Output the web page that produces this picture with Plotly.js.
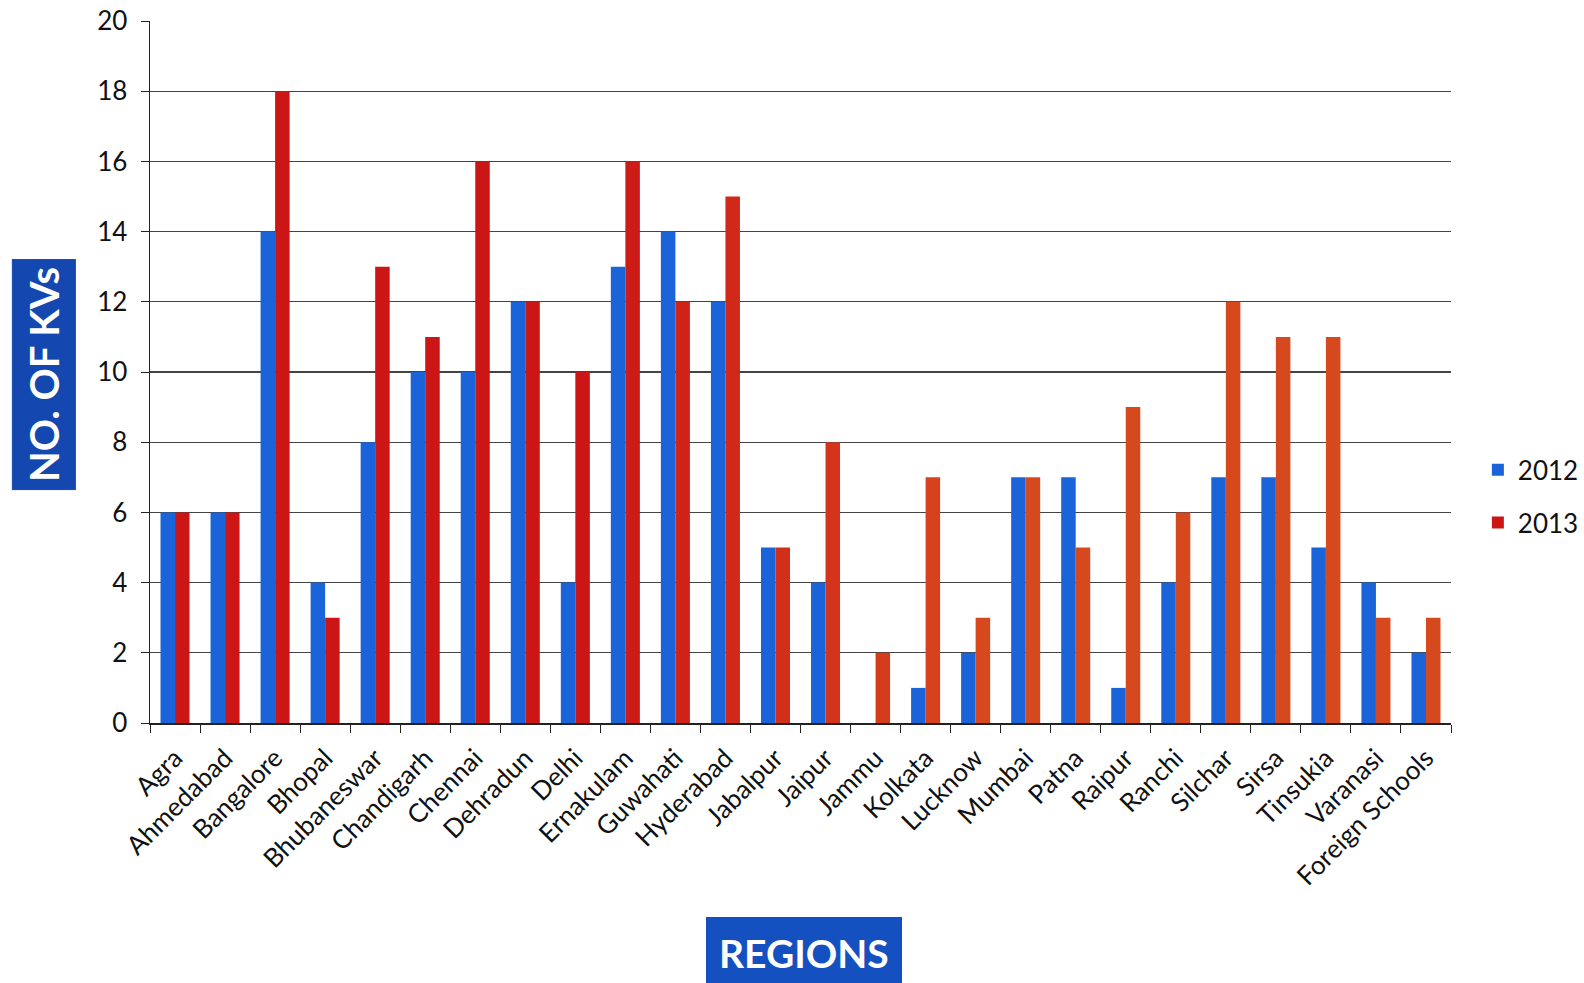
<!DOCTYPE html>
<html>
<head>
<meta charset="utf-8">
<script src="https://cdn.plot.ly/plotly-3.0.1.min.js"></script>
<style>html,body{margin:0;padding:0;background:#fff;overflow:hidden;width:1584px;height:983px;}#chart{width:1584px;height:983px;overflow:hidden;}</style>
</head>
<body>
<div id="chart"></div>
<script>
const regions = ["Agra","Ahmedabad","Bangalore","Bhopal","Bhubaneswar","Chandigarh","Chennai","Dehradun","Delhi","Ernakulam","Guwahati","Hyderabad","Jabalpur","Jaipur","Jammu","Kolkata","Lucknow","Mumbai","Patna","Raipur","Ranchi","Silchar","Sirsa","Tinsukia","Varanasi","Foreign Schools"];
const kv2012 = [6,6,14,4,8,10,10,12,4,13,14,12,5,4,0,1,2,7,7,1,4,7,7,5,4,2];
const kv2013 = [6,6,18,3,13,11,16,12,10,16,12,15,5,8,2,7,3,7,5,9,6,12,11,11,3,3];
const yTicks = [0,2,4,6,8,10,12,14,16,18,20];

// scan colour drift of 2013 bars: deep red on the left, orange-red on the right
const red2013 = regions.map((r,i)=>{
  const t = Math.min(1, Math.max(0,(i-8)/8));
  const c1=[204,22,22], c2=[214,72,30];
  const c = c1.map((v,k)=>Math.round(v+(c2[k]-v)*t));
  return `rgb(${c[0]},${c[1]},${c[2]})`;
});

const font = "Lato, 'Open Sans', sans-serif";
const data = [
  {type:'bar', name:'2012', x:regions, y:kv2012, marker:{color:'#1b63d8'}, legendgroup:'a'},
  {type:'bar', name:'2013', x:regions, y:kv2013, marker:{color:'rgb(212,66,28)'}, legendgroup:'b'}
];
data[1].marker.color = red2013;
const layout = {
  width:1584, height:983,
  margin:{l:150, r:133, t:21, b:260},
  paper_bgcolor:'#fff', plot_bgcolor:'#fff',
  barmode:'group', bargap:0.42, bargroupgap:0,
  font:{family:font, color:'#111', size:20},
  showlegend:true,
  legend:{xref:'container', yref:'container', x:0.933, y:0.495, xanchor:'left', yanchor:'middle',
          font:{size:26, color:'#111'}, tracegroupgap:16, traceorder:'grouped', itemwidth:30, bgcolor:'rgba(0,0,0,0)'},
  xaxis:{
    type:'category', tickangle:-45, tickfont:{size:26, family:font, color:'#111'},
    showline:true, linecolor:'#222', linewidth:1.5, ticklabelstandoff:8,
    ticks:'outside', ticklen:8, tickcolor:'#222', tickson:'boundaries',
    showgrid:false, automargin:false
  },
  yaxis:{
    range:[0,20], tickvals:yTicks, tickfont:{size:26, family:font, color:'#111'},
    showline:true, linecolor:'#222', linewidth:1.5, ticklabelstandoff:8,
    ticks:'outside', ticklen:8, tickcolor:'#222',
    showgrid:true, gridcolor:'#444', gridwidth:1.2, zeroline:false, automargin:false
  },
  annotations:[
    {xref:'paper', yref:'paper', x:-0.0815, y:0.497, xanchor:'center', yanchor:'middle',
     text:'<b>NO. OF KVs</b>', textangle:-90, showarrow:false,
     font:{size:40, color:'#fff', family:font}, bgcolor:'#1448b0', borderpad:7,
     bordercolor:'#1448b0'},
    {xref:'paper', yref:'paper', x:0.503, y:-0.328, xanchor:'center', yanchor:'middle',
     text:'<b>REGIONS</b>', showarrow:false,
     font:{size:39, color:'#fff', family:font}, bgcolor:'#1450c0', borderpad:12,
     bordercolor:'#1450c0'}
  ]
};
Plotly.newPlot('chart', data, layout, {displayModeBar:false, staticPlot:true});
</script>
</body>
</html>
